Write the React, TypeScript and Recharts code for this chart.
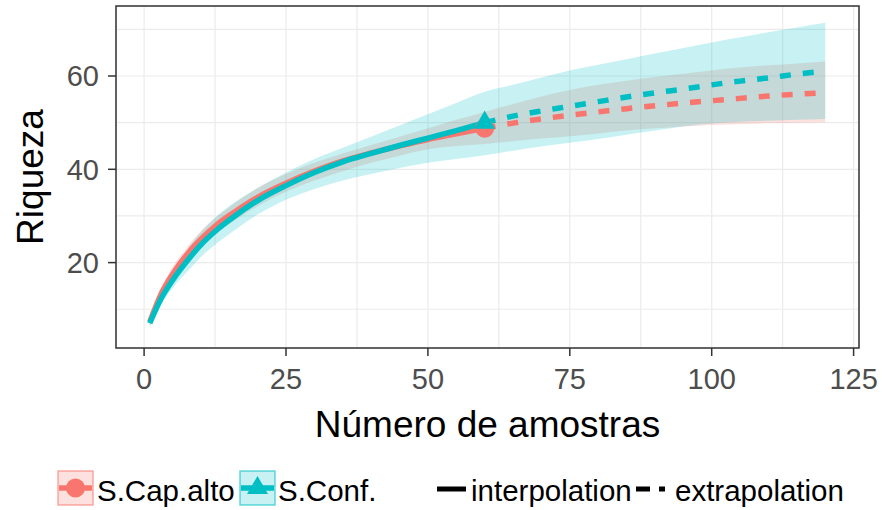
import React from 'react';
import { Area, CartesianGrid, ComposedChart, Line, ReferenceArea, Scatter, XAxis, YAxis } from 'recharts';

// sample sizes (número de amostras); index 15 is the observed sample (60)
const xs = [1, 3, 5, 8, 10, 13, 16, 20, 25, 30, 35, 40, 45, 50, 55, 60, 65, 70, 75, 80, 85, 90, 95, 100, 105, 110, 115, 120];
const obsIndex = 15;

// S.Cap.alto
const capInterp = [7.3, 13.3, 17.5, 22.4, 25.0, 28.3, 30.9, 34.0, 37.0, 39.6, 41.8, 43.5, 45.0, 46.4, 47.6, 48.8];
const capExtrap = [48.8, 49.9, 50.8, 51.6, 52.3, 53.0, 53.6, 54.2, 54.7, 55.2, 55.7, 56.1, 56.4];
const capLower = [6.4, 12.2, 16.0, 20.8, 23.2, 26.6, 29.1, 32.1, 35.2, 37.6, 39.6, 41.4, 42.9, 44.3, 45.0, 45.4, 46.0, 46.6, 47.1, 47.7, 48.3, 48.8, 49.2, 49.5, 49.7, 49.9, 50.0, 50.1];
const capUpper = [8.3, 14.4, 19.0, 24.0, 26.8, 30.0, 32.8, 36.0, 39.0, 41.4, 43.4, 45.2, 47.0, 48.8, 50.6, 52.3, 54.0, 55.6, 57.0, 58.1, 59.0, 59.8, 60.5, 61.2, 61.8, 62.3, 62.7, 63.1];

// S.Conf.
const confInterp = [7.0, 12.3, 16.2, 21.0, 23.8, 27.2, 30.0, 33.3, 36.5, 39.3, 41.6, 43.4, 45.1, 46.7, 48.3, 50.0];
const confExtrap = [50.0, 51.4, 52.5, 53.5, 54.5, 55.5, 56.4, 57.2, 58.1, 58.9, 59.6, 60.4, 61.1];
const confLower = [6.2, 11.0, 14.5, 18.6, 21.2, 24.3, 27.0, 30.3, 33.5, 35.8, 37.6, 39.0, 40.3, 41.4, 42.2, 43.0, 44.0, 44.9, 45.7, 46.5, 47.4, 48.3, 49.2, 49.8, 50.2, 50.4, 50.6, 50.8];
const confUpper = [7.8, 13.6, 18.0, 23.5, 26.5, 30.2, 33.0, 36.0, 39.3, 42.2, 44.6, 47.0, 49.4, 51.8, 54.2, 56.6, 58.1, 59.7, 61.2, 62.4, 63.6, 64.8, 66.0, 67.2, 68.3, 69.4, 70.4, 71.4];

const xTicks = [0, 25, 50, 75, 100, 125];
const yTicks = [20, 40, 60];
const xGrid = [0, 12.5, 25, 37.5, 50, 62.5, 75, 87.5, 100, 112.5, 125];
const yGrid = [10, 20, 30, 40, 50, 60, 70];
const xDomain = [-4.95, 125.95];
const yDomain = [1.7, 75];

const RED = '#F8766D';
const TEAL = '#00BFC4';
const FONT = '"Liberation Sans", Arial, sans-serif';

const rows = xs.map((x, i) => ({
  x,
  capI: i <= obsIndex ? capInterp[i] : null,
  capE: i >= obsIndex ? capExtrap[i - obsIndex] : null,
  capBand: [capLower[i], capUpper[i]],
  confI: i <= obsIndex ? confInterp[i] : null,
  confE: i >= obsIndex ? confExtrap[i - obsIndex] : null,
  confBand: [confLower[i], confUpper[i]],
}));

const capObs = [{ x: xs[obsIndex], y: capInterp[obsIndex] }];
const confObs = [{ x: xs[obsIndex], y: confInterp[obsIndex] }];

const circleShape = (p: any) => <circle cx={p.cx} cy={p.cy} r={9.5} fill={RED} />;
const triangleShape = (p: any) => {
  const s = 21;
  const h = s * 0.866;
  return (
    <path
      d={`M${p.cx},${p.cy - (2 * h) / 3} L${p.cx + s / 2},${p.cy + h / 3} L${p.cx - s / 2},${p.cy + h / 3} Z`}
      fill={TEAL}
    />
  );
};

const tick = { fill: '#4D4D4D', fontSize: 29, fontFamily: FONT };

export default function App() {
  return (
    <div style={{ position: 'absolute', left: 0, top: 0, width: 882, height: 510, background: '#fff' }}>
      <ComposedChart width={882} height={510} data={rows} margin={{ top: 6, right: 23, bottom: 0, left: 0 }}>
        {/* hidden axes that only carry the major + minor grid positions */}
        <XAxis xAxisId="grid" dataKey="x" type="number" domain={xDomain} ticks={xGrid} allowDataOverflow hide />
        <YAxis yAxisId="grid" type="number" domain={yDomain} ticks={yGrid} allowDataOverflow hide />
        <CartesianGrid xAxisId="grid" yAxisId="grid" stroke="#EBEBEB" strokeWidth={1.2} />
        <XAxis
          dataKey="x"
          type="number"
          domain={xDomain}
          ticks={xTicks}
          allowDataOverflow
          height={162}
          axisLine={false}
          tickSize={8}
          tickMargin={12}
          tickLine={{ stroke: '#333333', strokeWidth: 1.5 }}
          tick={tick}
        />
        <YAxis
          type="number"
          domain={yDomain}
          ticks={yTicks}
          allowDataOverflow
          width={116}
          axisLine={false}
          tickSize={8}
          tickMargin={9}
          tickLine={{ stroke: '#333333', strokeWidth: 1.5 }}
          tick={tick}
        />
        <Area dataKey="capBand" type="monotone" stroke="none" fill={RED} fillOpacity={0.22} isAnimationActive={false} activeDot={false} />
        <Area dataKey="confBand" type="monotone" stroke="none" fill={TEAL} fillOpacity={0.22} isAnimationActive={false} activeDot={false} />
        <Line dataKey="capI" type="monotone" stroke={RED} strokeWidth={5.5} dot={false} activeDot={false} isAnimationActive={false} />
        <Line dataKey="capE" type="monotone" stroke={RED} strokeWidth={5.5} strokeDasharray="11 12" dot={false} activeDot={false} isAnimationActive={false} />
        <Line dataKey="confI" type="monotone" stroke={TEAL} strokeWidth={5.5} dot={false} activeDot={false} isAnimationActive={false} />
        <Line dataKey="confE" type="monotone" stroke={TEAL} strokeWidth={5.5} strokeDasharray="11 12" dot={false} activeDot={false} isAnimationActive={false} />
        <Scatter data={capObs} dataKey="y" shape={circleShape} isAnimationActive={false} />
        <Scatter data={confObs} dataKey="y" shape={triangleShape} isAnimationActive={false} />
        <ReferenceArea
          x1={xDomain[0]}
          x2={xDomain[1]}
          y1={yDomain[0]}
          y2={yDomain[1]}
          fill="none"
          stroke="#333333"
          strokeWidth={1.5}
          ifOverflow="visible"
        />
      </ComposedChart>

      <svg width={882} height={510} style={{ position: 'absolute', left: 0, top: 0, pointerEvents: 'none' }} fontFamily={FONT}>
        <text x={487.5} y={437} textAnchor="middle" fontSize={37} fill="#000">Número de amostras</text>
        <text transform="translate(43,177) rotate(-90)" textAnchor="middle" fontSize={37} fill="#000">Riqueza</text>

        {/* legend */}
        <rect x={58} y={471} width={35} height={34} fill={RED} fillOpacity={0.22} stroke={RED} strokeOpacity={0.6} strokeWidth={1.5} />
        <line x1={59} y1={488} x2={92} y2={488} stroke={RED} strokeWidth={5.5} />
        <circle cx={75.5} cy={488} r={9.5} fill={RED} />
        <text x={97} y={501} fontSize={29.5} fill="#000">S.Cap.alto</text>

        <rect x={240} y={471} width={35} height={34} fill={TEAL} fillOpacity={0.22} stroke={TEAL} strokeOpacity={0.6} strokeWidth={1.5} />
        <line x1={241} y1={488} x2={274} y2={488} stroke={TEAL} strokeWidth={5.5} />
        <path d="M257.5,476 L268,494 L247,494 Z" fill={TEAL} />
        <text x={278} y={501} fontSize={29.5} fill="#000">S.Conf.</text>

        <line x1={437} y1={489} x2={466} y2={489} stroke="#000" strokeWidth={5} />
        <text x={471} y={501} fontSize={29.5} fill="#000">interpolation</text>

        <line x1={636} y1={489} x2={665} y2={489} stroke="#000" strokeWidth={5} strokeDasharray="14 9" />
        <text x={675} y={501} fontSize={29.5} fill="#000">extrapolation</text>
      </svg>
    </div>
  );
}
